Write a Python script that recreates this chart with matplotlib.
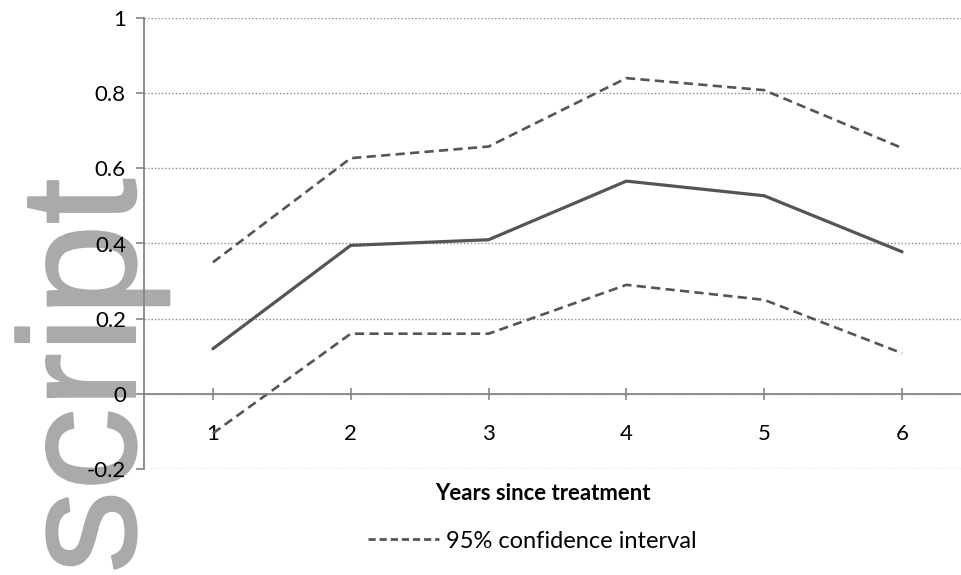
import matplotlib
matplotlib.use('Agg')
import matplotlib.pyplot as plt
from matplotlib.lines import Line2D
import matplotlib.patheffects as pe

plt.rcParams['font.family'] = ['Lato', 'DejaVu Sans']

# Data
years = [1, 2, 3, 4, 5, 6]
estimate = [0.12, 0.395, 0.41, 0.566, 0.527, 0.378]
upper_ci = [0.35, 0.627, 0.658, 0.84, 0.808, 0.654]
lower_ci = [-0.105, 0.16, 0.16, 0.29, 0.25, 0.108]
yticks = [-0.2, 0, 0.2, 0.4, 0.6, 0.8, 1]
ytick_labels = ['-0.2', '0', '0.2', '0.4', '0.6', '0.8', '1']

fig = plt.figure(figsize=(9.61, 5.75), dpi=100)

# big watermark text behind the chart (baseline is vertical, reads upwards)
fig.text(135 / 961, 1 - 376 / 575, 'script', rotation=90, rotation_mode='anchor',
         fontsize=119, family='Liberation Sans', color='#aaaaaa',
         ha='center', va='baseline', zorder=-1,
         path_effects=[pe.withStroke(linewidth=1.5, foreground='#aaaaaa')])

# right edge of plot area runs past the image
ax = fig.add_axes([144 / 961, 1 - 469 / 575, 827 / 961, 451 / 575])
ax.patch.set_alpha(0)

line_col = '#555555'
ax.plot(years, upper_ci, color=line_col, lw=1.9, dashes=(3.5, 2))
ax.plot(years, estimate, color=line_col, lw=2.3, solid_capstyle='round')
ax.plot(years, lower_ci, color=line_col, lw=1.9, dashes=(3.5, 2))

ax.set_xlim(0.5, 6.5)
ax.set_ylim(-0.2, 1)
ax.set_yticks(yticks)
ax.set_yticklabels(ytick_labels)
ax.set_xticks(years)
ax.set_xticklabels([str(y) for y in years])

ax.grid(axis='y', color='#8c8c8c', linestyle=(0, (1, 1.5)), lw=1)
ax.set_axisbelow(True)

for s in ['top', 'right']:
    ax.spines[s].set_visible(False)
ax.spines['bottom'].set_position(('data', 0))
ax.spines['bottom'].set_color('#868686')
ax.spines['left'].set_color('#868686')
ax.spines['bottom'].set_linewidth(1.3)
ax.spines['left'].set_linewidth(1.3)

ax.tick_params(axis='y', direction='out', length=6, color='#868686',
               labelsize=16, pad=7, width=1.2)
ax.tick_params(axis='x', direction='inout', length=8, color='#868686',
               labelsize=16, pad=18, width=1.2)

fig.text(543 / 961, 1 - 493 / 575, 'Years since treatment', fontsize=15.9,
         fontweight='bold', ha='center', va='center')

handle = Line2D([], [], color=line_col, lw=2, dashes=(2.6, 1.4))
fig.legend(handles=[handle], labels=['95% confidence interval'],
           loc='center', bbox_to_anchor=(532 / 961, 1 - 541 / 575),
           frameon=False, fontsize=17, handlelength=3.0, handletextpad=0.3)

fig.savefig('out.png', dpi=100)
